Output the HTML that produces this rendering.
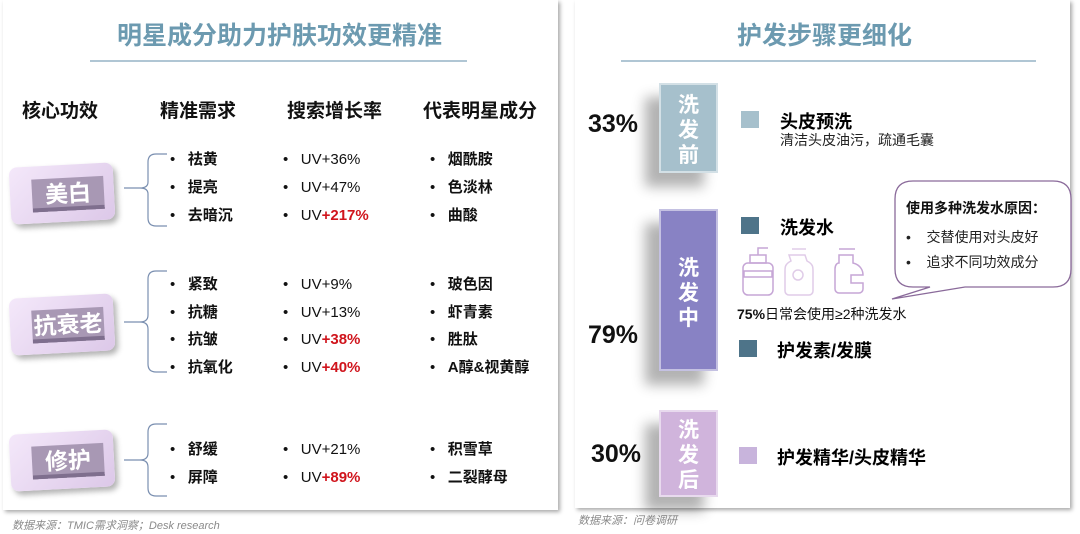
<!DOCTYPE html>
<html><head><meta charset="utf-8"><style>
body{margin:0;width:1080px;height:534px;background:#fff;position:relative;overflow:hidden;font-family:"Liberation Sans","Noto Sans CJK SC",sans-serif;}
.a{position:absolute;white-space:nowrap;}
.panel{position:absolute;background:#fff;box-shadow:2px 2px 4px rgba(0,0,0,.35);}
.t{font-weight:bold;color:#6c9ab0;font-size:25px;}
.h{font-weight:bold;font-size:19px;color:#111;}
.r{font-size:15px;color:#111;line-height:18px;}
.b{font-weight:bold;}
.red{color:#d0141c;font-weight:bold;}
.key{position:absolute;background:linear-gradient(135deg,#f4e8fa,#dcc8e8);border-radius:8px;box-shadow:3px 4px 6px rgba(0,0,0,.3);transform:rotate(-3deg);}
.key div{position:absolute;left:22px;right:10px;top:13px;bottom:11px;background:#a898b4;color:#fff;font-weight:bold;font-size:23px;line-height:33px;text-align:center;box-shadow:inset 0 -4px 0 #7f6f8e;}
.box{position:absolute;width:59px;color:#fff;font-weight:bold;font-size:21px;text-align:center;line-height:25px;box-shadow:-14px 14px 12px rgba(0,0,0,.3);border:2px solid rgba(255,255,255,.5);box-sizing:border-box;}
.sq{position:absolute;width:18px;height:17px;}
.pct{font-weight:bold;font-size:25px;color:#111;}
</style></head><body>
<div class="panel" style="left:3px;top:0;width:555px;height:510px"></div>
<div class="panel" style="left:575px;top:0;width:495px;height:508px"></div>

<div class="a t" style="left:117px;top:16px">明星成分助力护肤功效更精准</div>
<div class="a" style="left:90px;top:60px;width:377px;height:2px;background:#b0c6d4"></div>
<div class="a h" style="left:22px;top:96px">核心功效</div>
<div class="a h" style="left:160px;top:96px">精准需求</div>
<div class="a h" style="left:287px;top:96px">搜索增长率</div>
<div class="a h" style="left:423px;top:96px">代表明星成分</div>

<div class="key" style="left:10px;top:165px;width:104px;height:57px"><div>美白</div></div>
<div class="key" style="left:10px;top:296px;width:104px;height:57px"><div>抗衰老</div></div>
<div class="key" style="left:10px;top:432px;width:104px;height:57px"><div>修护</div></div>

<svg class="a" style="left:0;top:0" width="560" height="510">
<g fill="none" stroke="#7a8fb0" stroke-width="1.2">
<path d="M167 154 H156 Q148 154 148 162 V182 Q148 188 140 188 H124 M140 188 Q148 188 148 194 V218 Q148 226 156 226 H167"/>
<path d="M167 271 H156 Q148 271 148 279 V315 Q148 322 140 322 H124 M140 322 Q148 322 148 329 V364 Q148 372 156 372 H167"/>
<path d="M167 424 H156 Q148 424 148 432 V453 Q148 460 140 460 H124 M140 460 Q148 460 148 467 V488 Q148 496 156 496 H167"/>
</g></svg>

<div class="a r" style="left:170px;top:146px;line-height:28px">•&nbsp;&nbsp;&nbsp;<b>祛黄</b><br>•&nbsp;&nbsp;&nbsp;<b>提亮</b><br>•&nbsp;&nbsp;&nbsp;<b>去暗沉</b></div>
<div class="a r" style="left:283px;top:146px;line-height:28px">•&nbsp;&nbsp;&nbsp;UV+36%<br>•&nbsp;&nbsp;&nbsp;UV+47%<br>•&nbsp;&nbsp;&nbsp;UV<span class="red">+217%</span></div>
<div class="a r" style="left:430px;top:146px;line-height:28px">•&nbsp;&nbsp;&nbsp;<b>烟酰胺</b><br>•&nbsp;&nbsp;&nbsp;<b>色淡林</b><br>•&nbsp;&nbsp;&nbsp;<b>曲酸</b></div>

<div class="a r" style="left:170px;top:271px;line-height:27.7px">•&nbsp;&nbsp;&nbsp;<b>紧致</b><br>•&nbsp;&nbsp;&nbsp;<b>抗糖</b><br>•&nbsp;&nbsp;&nbsp;<b>抗皱</b><br>•&nbsp;&nbsp;&nbsp;<b>抗氧化</b></div>
<div class="a r" style="left:283px;top:271px;line-height:27.7px">•&nbsp;&nbsp;&nbsp;UV+9%<br>•&nbsp;&nbsp;&nbsp;UV+13%<br>•&nbsp;&nbsp;&nbsp;UV<span class="red">+38%</span><br>•&nbsp;&nbsp;&nbsp;UV<span class="red">+40%</span></div>
<div class="a r" style="left:430px;top:271px;line-height:27.7px">•&nbsp;&nbsp;&nbsp;<b>玻色因</b><br>•&nbsp;&nbsp;&nbsp;<b>虾青素</b><br>•&nbsp;&nbsp;&nbsp;<b>胜肽</b><br>•&nbsp;&nbsp;&nbsp;<b>A醇&amp;视黄醇</b></div>

<div class="a r" style="left:170px;top:436px;line-height:28px">•&nbsp;&nbsp;&nbsp;<b>舒缓</b><br>•&nbsp;&nbsp;&nbsp;<b>屏障</b></div>
<div class="a r" style="left:283px;top:436px;line-height:28px">•&nbsp;&nbsp;&nbsp;UV+21%<br>•&nbsp;&nbsp;&nbsp;UV<span class="red">+89%</span></div>
<div class="a r" style="left:430px;top:436px;line-height:28px">•&nbsp;&nbsp;&nbsp;<b>积雪草</b><br>•&nbsp;&nbsp;&nbsp;<b>二裂酵母</b></div>

<div class="a" style="left:12px;top:517px;font-size:11px;color:#8a8a8a;font-style:italic">数据来源：TMIC需求洞察；Desk research</div>
<div class="a" style="left:578px;top:512px;font-size:11px;color:#8a8a8a;font-style:italic">数据来源：问卷调研</div>

<div class="a t" style="left:737px;top:16px">护发步骤更细化</div>
<div class="a" style="left:621px;top:60px;width:415px;height:2px;background:#b0c6d4"></div>

<div class="a pct" style="left:588px;top:110px">33%</div>
<div class="a pct" style="left:588px;top:321px">79%</div>
<div class="a pct" style="left:591px;top:440px">30%</div>

<div class="box" style="left:659px;top:83px;height:90px;background:#a6c0cc;padding-top:8px">洗<br>发<br>前</div>
<div class="box" style="left:659px;top:209px;height:162px;background:#8882c4;padding-top:45px">洗<br>发<br>中</div>
<div class="box" style="left:659px;top:410px;height:87px;background:#d0b4dc;padding-top:6px">洗<br>发<br>后</div>

<div class="sq" style="left:741px;top:111px;background:#a6c0cc"></div>
<div class="sq" style="left:741px;top:217px;background:#4e7489"></div>
<div class="sq" style="left:739px;top:340px;background:#4e7489"></div>
<div class="sq" style="left:739px;top:447px;background:#c8b4dc"></div>

<div class="a b" style="left:780px;top:108px;font-size:18px">头皮预洗</div>
<div class="a" style="left:780px;top:130px;font-size:14px;color:#222">清洁头皮油污，疏通毛囊</div>
<div class="a b" style="left:780px;top:214px;font-size:18px">洗发水</div>
<div class="a b" style="left:777px;top:337px;font-size:18px">护发素/发膜</div>
<div class="a b" style="left:777px;top:444px;font-size:18px">护发精华/头皮精华</div>
<div class="a" style="left:737px;top:304px;font-size:14px;color:#111"><b>75%</b>日常会使用≥2种洗发水</div>

<svg class="a" style="left:735px;top:245px" width="150" height="52" fill="none" stroke="#c6a6d6" stroke-width="1.5">
<rect x="8" y="18" width="30" height="32" rx="5"/><rect x="15" y="10" width="16" height="8"/><path d="M23 10V3h10"/><rect x="9" y="26" width="28" height="6"/>
<path d="M54 10h16l2 6c6 3 6 6 6 10v20a4 4 0 0 1-4 4H54a4 4 0 0 1-4-4V26c0-4 0-7 6-10z" stroke="#e0cce8"/><circle cx="63" cy="30" r="5" stroke="#e0cce8"/><path d="M57 4h14" stroke="#e0cce8"/>
<path d="M104 10h14v8c8 2 10 8 10 12h-12v8h12v6a4 4 0 0 1-4 4H104a4 4 0 0 1-4-4V24c0-4 2-6 4-6z"/><path d="M104 4h16"/>
</svg>

<svg class="a" style="left:880px;top:175px" width="200" height="130">
<path d="M33 6 H173 Q191 6 191 24 V94 Q191 112 173 112 H85 L12 124 L50 112 H33 Q15 112 15 94 V24 Q15 6 33 6 Z" fill="#fff" stroke="#8a6a9a" stroke-width="1.3"/>
</svg>
<div class="a b" style="left:906px;top:198px;font-size:14px;color:#111">使用多种洗发水原因：</div>
<div class="a" style="left:906px;top:225px;font-size:14px;color:#222;line-height:25px">•&nbsp;&nbsp;&nbsp;&nbsp;交替使用对头皮好<br>•&nbsp;&nbsp;&nbsp;&nbsp;追求不同功效成分</div>
</body></html>
